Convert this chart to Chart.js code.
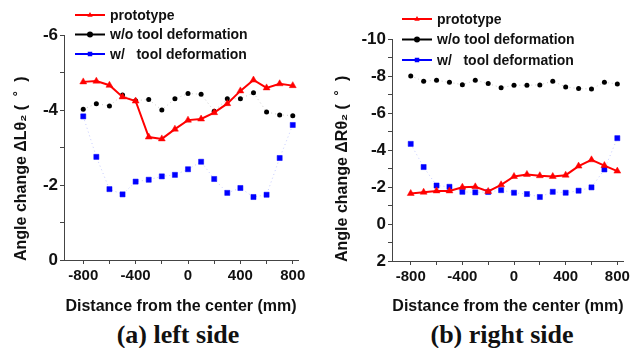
<!DOCTYPE html>
<html>
<head>
<meta charset="utf-8">
<script src="https://cdn.jsdelivr.net/npm/chart.js@4.4.0/dist/chart.umd.js"></script>
<style>
    body { margin: 0; background: #fff; width: 633px; height: 348px; overflow: hidden; position: relative; }
    canvas { position: absolute; top: 0; }
    .caption {
        position: absolute;
        top: 320px;
        font: bold 26px "Liberation Serif", "Times New Roman", serif;
        color: #111;
        transform: translateX(-50%);
        white-space: nowrap;
    }
</style>
</head>
<body>
<canvas id="leftChart" width="316" height="320" style="left:0"></canvas>
<canvas id="rightChart" width="317" height="320" style="left:316px"></canvas>
<div class="caption" style="left:178px">(a) left side</div>
<div class="caption" style="left:502px">(b) right side</div>

<script>
// distance from the center (mm)
const distances = [-800, -700, -600, -500, -400, -300, -200, -100, 0, 100, 200, 300, 400, 500, 600, 700, 800];

const seriesLabels = ['prototype', 'w/o tool deformation', 'w/   tool deformation'];

// left side, angle change (deg)
const leftPrototype = [-4.75, -4.77, -4.66, -4.35, -4.24, -3.28, -3.23, -3.49, -3.73, -3.76, -3.93, -4.17, -4.51, -4.80, -4.59, -4.70, -4.65];
const leftWithout   = [-4.02, -4.17, -4.11, -4.40, -4.25, -4.28, -4.00, -4.30, -4.44, -4.42, -3.97, -4.30, -4.30, -4.46, -3.95, -3.87, -3.85];
const leftWith      = [-3.83, -2.75, -1.89, -1.75, -2.09, -2.14, -2.23, -2.27, -2.42, -2.62, -2.16, -1.79, -1.92, -1.68, -1.74, -2.72, -3.60];

// right side, angle change (deg)
const rightPrototype = [-1.65, -1.72, -1.79, -1.79, -1.99, -2.01, -1.76, -2.12, -2.57, -2.68, -2.61, -2.57, -2.64, -3.13, -3.47, -3.16, -2.86];
const rightWithout   = [-8.00, -7.72, -7.77, -7.66, -7.53, -7.77, -7.59, -7.37, -7.50, -7.50, -7.52, -7.72, -7.41, -7.32, -7.30, -7.66, -7.57];
const rightWith      = [-4.33, -3.08, -2.08, -2.01, -1.74, -1.71, -1.73, -1.83, -1.69, -1.62, -1.46, -1.74, -1.69, -1.80, -1.98, -2.95, -4.64];

// tick labels (minor ticks in between are unlabeled)
const xTickLabels = [-800, -400, 0, 400, 800];
const xMinorTicks = [-600, -200, 200, 600];
const leftYTickLabels = [-6, -4, -2, 0];
const leftYMinorTicks = [-5, -3, -1];
const rightYTickLabels = [-10, -8, -6, -4, -2, 0, 2];
const rightYMinorTicks = [-9, -7, -5, -3, -1, 1];

const FONT = '"Liberation Sans", Arial, sans-serif';

function toPoints(values) {
    return distances.map((d, i) => ({ x: d, y: values[i] }));
}

function drawMarker(ctx, style, x, y, r, color) {
    ctx.fillStyle = color;
    ctx.beginPath();
    if (style === 'triangle') {
        ctx.moveTo(x, y - r);
        ctx.lineTo(x + r * 0.9, y + r * 0.6);
        ctx.lineTo(x - r * 0.9, y + r * 0.6);
        ctx.closePath();
    } else if (style === 'rect') {
        ctx.rect(x - r * 0.75, y - r * 0.75, r * 1.5, r * 1.5);
    } else {
        ctx.arc(x, y, r, 0, Math.PI * 2);
    }
    ctx.fill();
}

// legend drawn over the plot, like the original figure
const insideLegend = {
    id: 'insideLegend',
    afterDraw(chart, args, opts) {
        const ctx = chart.ctx;
        ctx.save();
        ctx.font = 'bold 14px ' + FONT;
        ctx.textBaseline = 'middle';
        chart.data.datasets.forEach((ds, i) => {
            const y = opts.y + i * opts.gap;
            ctx.strokeStyle = ds.pointBackgroundColor;
            ctx.lineWidth = 2;
            ctx.setLineDash([]);
            ctx.beginPath();
            ctx.moveTo(opts.x, y);
            ctx.lineTo(opts.x + 30, y);
            ctx.stroke();
            drawMarker(ctx, ds.pointStyle, opts.x + 15, y, 3, ds.pointBackgroundColor);
            ctx.fillStyle = '#111';
            ctx.fillText(ds.label, opts.x + 35, y + 1);
        });
        ctx.restore();
    }
};

// y axis title, written upward from the bottom of the plot
const sideTitle = {
    id: 'sideTitle',
    afterDraw(chart, args, opts) {
        const ctx = chart.ctx;
        ctx.save();
        ctx.translate(opts.x, chart.chartArea.bottom + 1);
        ctx.rotate(-Math.PI / 2);
        ctx.font = 'bold 16px ' + FONT;
        ctx.fillStyle = '#111';
        ctx.textAlign = 'left';
        ctx.textBaseline = 'middle';
        ctx.fillText(opts.text, 0, 0);
        ctx.restore();
    }
};

function makeDatasets(proto, without, withD) {
    return [
        {
            label: seriesLabels[0],
            data: toPoints(proto),
            borderColor: '#ff0000',
            backgroundColor: '#ff0000',
            pointBackgroundColor: '#ff0000',
            pointBorderColor: '#ff0000',
            borderWidth: 2,
            pointStyle: 'triangle',
            pointRadius: 4,
            pointBorderWidth: 0.5,
            tension: 0
        },
        {
            label: seriesLabels[1],
            data: toPoints(without),
            borderColor: 'rgba(170,170,170,0.6)',
            pointBackgroundColor: '#000000',
            pointBorderColor: '#000000',
            borderWidth: 1,
            borderDash: [1, 3],
            pointStyle: 'circle',
            pointRadius: 2.5,
            pointBorderWidth: 0,
            tension: 0
        },
        {
            label: seriesLabels[2],
            data: toPoints(withD),
            borderColor: 'rgba(150,160,255,0.55)',
            pointBackgroundColor: '#0000ff',
            pointBorderColor: '#0000ff',
            borderWidth: 1,
            borderDash: [1, 3],
            pointStyle: 'rect',
            pointRadius: 3.6,
            pointBorderWidth: 0.5,
            tension: 0
        }
    ];
}

function makeChart(canvasId, cfg) {
    const ctx = document.getElementById(canvasId).getContext('2d');
    return new Chart(ctx, {
        type: 'line',
        data: { datasets: makeDatasets(cfg.proto, cfg.without, cfg.withD) },
        options: {
            responsive: false,
            animation: false,
            layout: { padding: { top: cfg.padTop, right: cfg.padRight, left: cfg.padLeft, bottom: 0 } },
            plugins: {
                legend: { display: false },
                tooltip: { enabled: false },
                insideLegend: cfg.legend,
                sideTitle: { text: cfg.yTitle, x: cfg.yTitleX }
            },
            scales: {
                x: {
                    type: 'linear',
                    min: cfg.xMin,
                    max: cfg.xMax,
                    afterBuildTicks: s => {
                        s.ticks = xTickLabels.concat(xMinorTicks).sort((a, b) => a - b).map(v => ({ value: v }));
                    },
                    afterFit: s => { s.height = cfg.xHeight; },
                    ticks: {
                        autoSkip: false,
                        maxRotation: 0,
                        padding: 3,
                        color: '#111',
                        font: { family: FONT, size: 15, weight: 'bold' },
                        callback: v => xTickLabels.includes(v) ? String(v) : ''
                    },
                    grid: { drawOnChartArea: false, tickLength: 4, color: '#444' },
                    border: { color: '#444', width: 1 },
                    title: {
                        display: true,
                        text: 'Distance from the center (mm)',
                        color: '#111',
                        padding: { top: 4, bottom: 4 },
                        font: { family: FONT, size: 16, weight: 'bold' }
                    }
                },
                y: {
                    type: 'linear',
                    reverse: true,
                    min: cfg.yTickLabels[0],
                    max: cfg.yTickLabels[cfg.yTickLabels.length - 1],
                    afterBuildTicks: s => {
                        s.ticks = cfg.yTickLabels.concat(cfg.yMinorTicks).sort((a, b) => a - b).map(v => ({ value: v }));
                    },
                    afterFit: s => { s.width = cfg.yWidth; },
                    ticks: {
                        autoSkip: false,
                        padding: 2,
                        color: '#111',
                        font: { family: FONT, size: 17, weight: 'bold' },
                        callback: v => cfg.yTickLabels.includes(v) ? String(v) : ''
                    },
                    grid: { drawOnChartArea: false, tickLength: 4, color: '#444' },
                    border: { color: '#444', width: 1 }
                }
            }
        },
        plugins: [insideLegend, sideTitle]
    });
}

makeChart('leftChart', {
    proto: leftPrototype, without: leftWithout, withD: leftWith,
    yTickLabels: leftYTickLabels, yMinorTicks: leftYMinorTicks,
    yTitle: 'Angle change ΔLθ₂ (  ˚  )', yTitleX: 22,
    xMin: -947, xMax: 840,
    padTop: 35, padRight: 18, padLeft: 10,
    yWidth: 54, xHeight: 60,
    legend: { x: 75, y: 15, gap: 19.5 }
});

makeChart('rightChart', {
    proto: rightPrototype, without: rightWithout, withD: rightWith,
    yTickLabels: rightYTickLabels, yMinorTicks: rightYMinorTicks,
    yTitle: 'Angle change ΔRθ₂ (  ˚  )', yTitleX: 27,
    xMin: -945, xMax: 851,
    padTop: 39, padRight: 6, padLeft: 15,
    yWidth: 61, xHeight: 59,
    legend: { x: 86, y: 19, gap: 20.5 }
});
</script>
</body>
</html>
